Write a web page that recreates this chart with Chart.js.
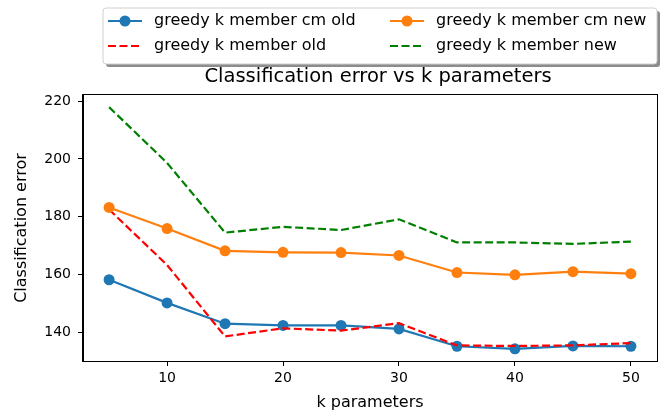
<!DOCTYPE html>
<html>
<head>
<meta charset="utf-8">
<script src="https://cdn.jsdelivr.net/npm/chart.js@4.4.0/dist/chart.umd.min.js"></script>
<style>
  html, body { margin: 0; padding: 0; background: #fff; }
  #wrap { width: 667px; height: 412px; }
</style>
</head>
<body>
<div id="wrap"><canvas id="lineChart" width="667" height="412"></canvas></div>
<script>
// values
const kValues = [5, 10, 15, 20, 25, 30, 35, 40, 45, 50];
const cmOld = [158.2, 150.2, 143.0, 142.4, 142.4, 141.2, 135.2, 134.3, 135.3, 135.2];
const cmNew = [183.2, 175.9, 168.2, 167.7, 167.6, 166.6, 160.7, 159.9, 161.0, 160.3];
const memberOld = [182.5, 163.3, 138.6, 141.4, 140.6, 143.2, 135.5, 135.3, 135.5, 136.3];
const memberNew = [217.9, 198.6, 174.5, 176.5, 175.4, 179.1, 171.1, 171.1, 170.6, 171.4];
const xTicks = [10, 20, 30, 40, 50];
const yTicks = [140, 160, 180, 200, 220];

const FONT = "'DejaVu Sans', sans-serif";
const toPoints = arr => arr.map((v, i) => ({ x: kValues[i], y: v }));

// title + boxed legend (two columns, drop shadow) + top/right spines
const extras = {
  id: 'extras',
  afterDraw(chart) {
    const ctx = chart.ctx;
    const a = chart.chartArea;
    ctx.save();

    // spines on all four sides
    ctx.strokeStyle = '#000';
    ctx.lineWidth = 1;
    ctx.strokeRect(Math.round(a.left) - 0.5, Math.round(a.top) - 0.5,
      Math.round(a.right - a.left) + 1, Math.round(a.bottom - a.top) + 1);

    // title
    ctx.fillStyle = '#000';
    ctx.font = '19.5px ' + FONT;
    ctx.textAlign = 'center';
    ctx.textBaseline = 'middle';
    ctx.fillText('Classification error vs k parameters', 378, 77);

    // legend box
    const bx = 103, by = 8, bw = 554, bh = 56;
    ctx.fillStyle = 'rgba(0,0,0,0.45)';
    ctx.beginPath();
    ctx.roundRect(bx + 3, by + 3, bw, bh, 3);
    ctx.fill();
    ctx.fillStyle = '#fff';
    ctx.beginPath();
    ctx.roundRect(bx, by, bw, bh, 3);
    ctx.fill();
    ctx.strokeStyle = '#d0d0d0';
    ctx.stroke();

    const colX = [108, 390];
    const rowY = [21, 46];
    ctx.font = '16px ' + FONT;
    ctx.textAlign = 'left';
    chart.data.datasets.forEach((ds, i) => {
      const x = colX[Math.floor(i / 2)];
      const y = rowY[i % 2];
      ctx.strokeStyle = ds.borderColor;
      ctx.lineWidth = ds.borderWidth;
      ctx.setLineDash(ds.borderDash || []);
      ctx.beginPath();
      ctx.moveTo(x, y);
      ctx.lineTo(x + 34, y);
      ctx.stroke();
      ctx.setLineDash([]);
      if (ds.pointRadius > 0) {
        ctx.fillStyle = ds.borderColor;
        ctx.beginPath();
        ctx.arc(x + 17, y, ds.pointRadius, 0, Math.PI * 2);
        ctx.fill();
      }
      ctx.fillStyle = '#000';
      ctx.fillText(ds.label, x + 46, y);
    });
    ctx.restore();
  }
};

const ctx = document.getElementById('lineChart');
new Chart(ctx, {
  type: 'line',
  data: {
    datasets: [{
      label: 'greedy k member cm old',
      data: toPoints(cmOld),
      borderColor: '#1f77b4',
      backgroundColor: '#1f77b4',
      borderWidth: 2.2,
      pointRadius: 5.5,
      pointBorderWidth: 0,
      order: 4
    }, {
      label: 'greedy k member old',
      data: toPoints(memberOld),
      borderColor: '#ff0000',
      backgroundColor: '#ff0000',
      borderWidth: 2.2,
      borderDash: [8, 3.5],
      pointRadius: 0,
      order: 3
    }, {
      label: 'greedy k member cm new',
      data: toPoints(cmNew),
      borderColor: '#ff7f0e',
      backgroundColor: '#ff7f0e',
      borderWidth: 2.2,
      pointRadius: 5.5,
      pointBorderWidth: 0,
      order: 2
    }, {
      label: 'greedy k member new',
      data: toPoints(memberNew),
      borderColor: '#008000',
      backgroundColor: '#008000',
      borderWidth: 2.2,
      borderDash: [8, 3.5],
      pointRadius: 0,
      order: 1
    }]
  },
  options: {
    responsive: false,
    animation: false,
    layout: { padding: { top: 95, right: 10, left: 0, bottom: 0 } },
    plugins: {
      legend: { display: false },
      title: { display: false },
      tooltip: { enabled: false }
    },
    scales: {
      x: {
        type: 'linear',
        min: 2.75,
        max: 52.25,
        afterFit: s => { s.height = 51; },
        afterBuildTicks: s => { s.ticks = xTicks.map(v => ({ value: v })); },
        grid: { drawOnChartArea: false, drawTicks: true, tickLength: 5, color: '#000' },
        border: { display: true, color: '#000', width: 1 },
        ticks: { color: '#000', font: { family: FONT, size: 14 }, padding: 4, maxRotation: 0 },
        title: { display: true, text: 'k parameters', color: '#000',
          font: { family: FONT, size: 16 }, padding: { top: 0, bottom: 0 } }
      },
      y: {
        min: 130.1,
        max: 222.1,
        afterFit: s => { s.width = 83; },
        afterBuildTicks: s => { s.ticks = yTicks.map(v => ({ value: v })); },
        grid: { drawOnChartArea: false, drawTicks: true, tickLength: 5, color: '#000' },
        border: { display: true, color: '#000', width: 1 },
        ticks: { color: '#000', font: { family: FONT, size: 14 }, padding: 7 },
        title: { display: true, text: 'Classification error', color: '#000',
          font: { family: FONT, size: 16 }, padding: { top: 12, bottom: 0 } }
      }
    }
  },
  plugins: [extras]
});
</script>
</body>
</html>
